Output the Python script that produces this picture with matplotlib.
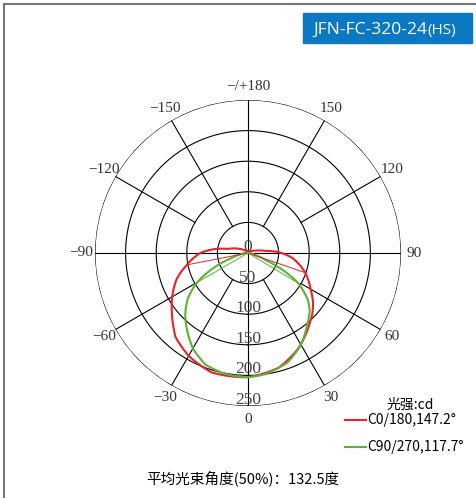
import numpy as np
import matplotlib
matplotlib.use("Agg")
import matplotlib.pyplot as plt
from matplotlib.lines import Line2D
from matplotlib.patches import Rectangle

# ---- data (angles in degrees, 0 = downward, intensities in cd) ----
c0_angles = [-180, -150, -130, -116, -110, -102, -97, -90, -79, -70, -60, -53, -45, -41,
             -30, -17, 0, 15, 28, 40, 47, 53, 60, 71, 84, 92, 97, 105, 120, 150, 180]
c0_values = [0, 2, 7, 15, 22, 32, 54, 78, 102, 124, 143, 156, 172, 181,
             194, 204, 203, 194, 176, 155, 144, 133, 118, 99, 72, 49, 28, 15, 6, 2, 0]

c90_angles = [-180, -120, -90, -80, -73, -67, -60, -53, -48, -45, -30, -21, -11, 0,
              8, 20, 30, 39, 47, 52, 59, 63, 68, 75, 90, 120, 180]
c90_values = [0, 0, 3, 12, 27, 59, 96, 123, 137, 145, 180, 195, 201, 203,
              200, 190, 173, 153, 138, 124, 96, 70, 32, 10, 2, 0, 0]

# thin straight segments from centre
c0_thin_angles = [-79, 71]
c0_thin_values = [102, 99]
c90_thin_angles = [-60, 59]
c90_thin_values = [96, 96]

ring_values = [50, 100, 150, 200, 250]
ring_labels = ["0", "50", "100", "150", "200", "250"]
spoke_angles = [-150, -120, -60, -30, 30, 60, 120, 150]
axis_angles = [0, 90, 180, 270]
angle_label_pos = [0, 30, 60, 90, 120, 150, 180, -150, -120, -90, -60, -30]
angle_label_txt = ["0", "30", "60", "90", "120", "150", "\u2212/+180",
                   "\u2212150", "\u2212120", "\u221290", "\u221260", "\u221230"]

title_main = "JFN-FC-320-24"
title_sub = "(HS)"
legend_title = "光强:cd"
legend_labels = ["C0/180,147.2°", "C90/270,117.7°"]
footer = "平均光束角度(50%)：132.5度"

RED = "#e8212b"
GREEN = "#5bb33a"

W, H = 477, 498
fig = plt.figure(figsize=(W / 100, H / 100), dpi=100)
cjk = ["Noto Sans CJK SC", "DejaVu Sans"]

cx, cy, R = 248, 253, 153
ax = fig.add_axes([(cx - R) / W, (H - cy - R) / H, 2 * R / W, 2 * R / H], projection="polar")
ax.set_theta_zero_location("S")
ax.set_theta_direction(1)
ax.set_ylim(0, 250)
ax.grid(False)
ax.set_xticks([])
ax.set_yticks([])
ax.spines["polar"].set_visible(False)
ax.patch.set_alpha(0)

th = np.linspace(0, 2 * np.pi, 361)
for rv in ring_values:
    ax.plot(th, np.full_like(th, rv), color="black", lw=0.8, zorder=1)
for a in axis_angles:
    ax.plot([np.deg2rad(a)] * 2, [0, 250], color="black", lw=0.8, zorder=1)
for a in spoke_angles:
    start = 50 if abs(a) in (30, 150) else 100
    ax.plot([np.deg2rad(a)] * 2, [start, 250], color="black", lw=0.8, zorder=1)

for a, t in zip(angle_label_pos, angle_label_txt):
    ax.text(np.deg2rad(a), 272, t, ha="center", va="center", fontsize=11,
            family="Liberation Serif", color="#333333", clip_on=False)

for i, t in enumerate(ring_labels):
    ax.annotate(t, xy=(0, i * 50), xytext=(0, 6), textcoords="offset pixels",
                ha="center", va="center", fontsize=12.5, family="Liberation Serif",
                color="#444444", zorder=3, annotation_clip=False)

ln0, = ax.plot(np.deg2rad(c0_angles), c0_values, color=RED, lw=1.5, zorder=4)
ln1, = ax.plot(np.deg2rad(c90_angles), c90_values, color=GREEN, lw=1.5, zorder=4)
for ln in (ln0, ln1):
    ln.get_path()._interpolation_steps = 16
for a, v in zip(c0_thin_angles, c0_thin_values):
    ax.plot([np.deg2rad(a)] * 2, [0, v], color=RED, lw=0.7, zorder=4)
for a, v in zip(c90_thin_angles, c90_thin_values):
    ax.plot([np.deg2rad(a)] * 2, [0, v], color=GREEN, lw=0.7, zorder=4)

# frame lines
def px(x, y):
    return x / W, 1 - y / H
fig.add_artist(Line2D([px(4, 4)[0], 1], [px(4, 4)[1]] * 2, color="#777777", lw=1.5))
fig.add_artist(Line2D([px(4, 4)[0]] * 2, [0, px(4, 4)[1]], color="#777777", lw=1.5))

# title box
x0, y0 = px(303, 43)
fig.add_artist(Rectangle((x0, y0), (472 - 303) / W, 30 / H, color="#0a78c2",
                         transform=fig.transFigure))
t1 = fig.text(px(313, 34)[0], px(313, 34)[1], title_main, color="white", fontsize=12.5,
              family="Open Sans", va="baseline", ha="left")
fig.canvas.draw()
bb = t1.get_window_extent()
fig.text(bb.x1 / W, px(0, 34)[1], title_sub, color="white", fontsize=11,
         family="Open Sans", va="baseline", ha="left")

# legend
fig.text(*px(410, 405), legend_title, family=cjk, fontsize=10, ha="center", va="center")
for i, (lab, col) in enumerate(zip(legend_labels, [RED, GREEN])):
    yy = 420 + 27 * i
    fig.add_artist(Line2D([345 / W, 366 / W], [1 - yy / H] * 2, color=col, lw=1.5))
    fig.text(*px(367, yy), lab, family=cjk, fontsize=10, ha="left", va="center")

fig.text(*px(243, 478), footer, family=cjk, fontsize=10.5, ha="center", va="center")

fig.savefig("out.png", dpi=100)
